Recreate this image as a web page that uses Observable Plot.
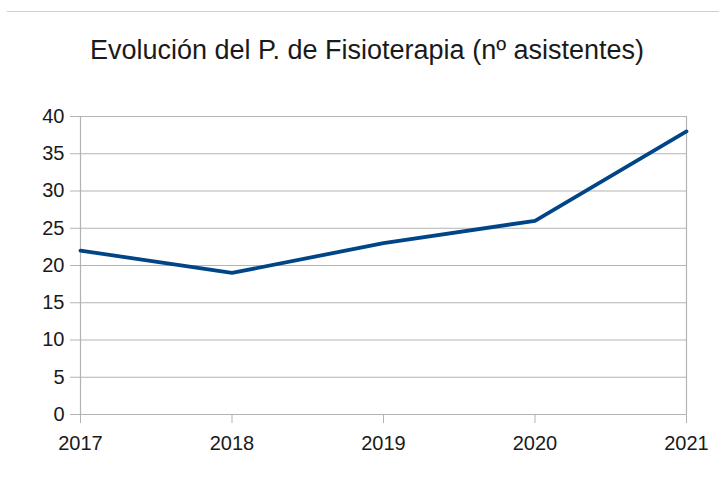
<!DOCTYPE html>
<html>
<head>
<meta charset="utf-8">
<script src="https://cdn.jsdelivr.net/npm/d3@7"></script>
<script src="https://cdn.jsdelivr.net/npm/@observablehq/plot@0.6"></script>
<style>
  html, body { margin: 0; padding: 0; background: #fff; }
  body { width: 719px; height: 488px; overflow: hidden; font-family: "Liberation Sans", Arial, sans-serif; }
  #topline { position: absolute; left: 7px; top: 11px; width: 712px; height: 0; border-top: 1px solid #d0d0d0; }
  #title { position: absolute; left: 0; top: 37px; width: 734px; text-align: center; font-size: 27px; line-height: 27px; color: #1a1a1a; }
  #chart { position: absolute; left: 0; top: 80px; }
</style>
</head>
<body>
<div id="topline"></div>
<div id="title">Evolución del P. de Fisioterapia (nº asistentes)</div>
<div id="chart"></div>
<script>
const years = [2017, 2018, 2019, 2020, 2021];
const asistentes = [22, 19, 23, 26, 38];
const yTicks = [0, 5, 10, 15, 20, 25, 30, 35, 40];

const data = years.map((y, i) => ({year: y, value: asistentes[i]}));

const chart = Plot.plot({
  width: 719,
  height: 408,
  marginTop: 36,
  marginBottom: 74,
  marginLeft: 80,
  marginRight: 33,
  style: {fontFamily: "Liberation Sans, Arial, sans-serif", fontSize: "20px", color: "#1a1a1a", background: "transparent", overflow: "visible"},
  x: {type: "linear", domain: [2017, 2021], label: null},
  y: {domain: [0, 40], label: null},
  marks: [
    Plot.gridY(yTicks, {stroke: "#b3b3b3", strokeOpacity: 1, strokeWidth: 1.2}),
    Plot.ruleX([2017, 2021], {stroke: "#b3b3b3", strokeWidth: 1.2}),
    Plot.axisY(yTicks, {tickSize: 10, tickPadding: 6, stroke: "#b3b3b3", fill: "#1a1a1a", tickFormat: d => String(d), fontSize: 20}),
    Plot.axisX(years, {tickSize: 9, tickPadding: 12, stroke: "#b3b3b3", fill: "#1a1a1a", tickFormat: d => String(d), fontSize: 20}),
    Plot.line(data, {x: "year", y: "value", stroke: "#004586", strokeWidth: 3.8})
  ]
});
document.getElementById("chart").appendChild(chart);
</script>
</body>
</html>
